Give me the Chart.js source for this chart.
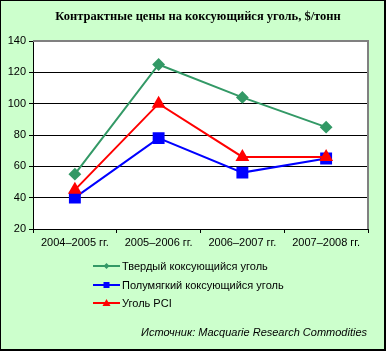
<!DOCTYPE html>
<html>
<head>
<meta charset="utf-8">
<script src="https://cdn.jsdelivr.net/npm/chart.js@4"></script>
<style>
  html, body { margin: 0; padding: 0; background: #ffffff; }
  #wrap { width: 386px; height: 351px; }
</style>
</head>
<body>
<div id="wrap"><canvas id="coalChart" width="386" height="351"></canvas></div>
<script>
// ---- data ----
const chartTitle = 'Контрактные цены на коксующийся уголь, $/тонн';
const sourceNote = 'Источник: Macquarie Research Commodities';
const periods = ['2004–2005 гг.', '2005–2006 гг.', '2006–2007 гг.', '2007–2008 гг.'];
const seriesNames = ['Твердый коксующийся уголь', 'Полумягкий коксующийся уголь', 'Уголь PCI'];
const hardCoking = [55, 125, 104, 85];
const semiSoft = [40, 78, 56, 65];
const pciCoal = [45, 100, 66, 66];
const yTicks = [20, 40, 60, 80, 100, 120, 140];

const FONT = 'Arial, "Liberation Sans", sans-serif';

// background, plot frame, title, legend and source note
const decorPlugin = {
    id: 'decor',
    beforeDraw(chart) {
        const ctx = chart.ctx;
        const a = chart.chartArea;
        ctx.save();
        ctx.fillStyle = '#CCFFCC';
        ctx.fillRect(0, 0, chart.width, chart.height);
        ctx.fillStyle = '#ffffff';
        ctx.fillRect(a.left, a.top, a.right - a.left, a.bottom - a.top);
        ctx.restore();
    },
    afterDatasetsDraw(chart) {
        const ctx = chart.ctx;
        const a = chart.chartArea;
        ctx.save();
        // plot area frame (top / right in grey)
        ctx.strokeStyle = '#808080';
        ctx.lineWidth = 2;
        ctx.beginPath();
        ctx.moveTo(a.left, a.top);
        ctx.lineTo(a.right, a.top);
        ctx.lineTo(a.right, a.bottom);
        ctx.stroke();
        ctx.restore();
    },
    afterDraw(chart) {
        const ctx = chart.ctx;
        ctx.save();
        // outer border
        ctx.fillStyle = '#000000';
        ctx.fillRect(0, 0, chart.width, 1);
        ctx.fillRect(0, 0, 1, chart.height);
        ctx.fillRect(chart.width - 2, 0, 2, chart.height);
        ctx.fillRect(0, chart.height - 2, chart.width, 2);

        // title
        ctx.fillStyle = '#000000';
        ctx.font = 'bold 12.5px "Liberation Serif", "Times New Roman", serif';
        ctx.textAlign = 'center';
        ctx.textBaseline = 'middle';
        ctx.fillText(chartTitle, 198, 17);

        // legend
        ctx.font = '11px ' + FONT;
        ctx.textAlign = 'left';
        const rows = [266, 285, 303];
        chart.data.datasets.forEach((ds, i) => {
            const y = rows[i];
            ctx.strokeStyle = ds.borderColor;
            ctx.lineWidth = 2;
            ctx.beginPath();
            ctx.moveTo(93, y);
            ctx.lineTo(120, y);
            ctx.stroke();
            ctx.fillStyle = ds.borderColor;
            const cx = 106.5;
            ctx.beginPath();
            if (ds.pointStyle === 'rectRot') {
                ctx.moveTo(cx, y - 3); ctx.lineTo(cx + 3, y); ctx.lineTo(cx, y + 3); ctx.lineTo(cx - 3, y);
            } else if (ds.pointStyle === 'rect') {
                ctx.rect(cx - 3, y - 3, 6, 6);
            } else {
                ctx.moveTo(cx, y - 4); ctx.lineTo(cx + 4, y + 3); ctx.lineTo(cx - 4, y + 3);
            }
            ctx.closePath();
            ctx.fill();
            ctx.fillStyle = '#000000';
            ctx.fillText(ds.label, 122, y + 1);
        });

        // source note
        ctx.font = 'italic 11px ' + FONT;
        ctx.textAlign = 'right';
        ctx.fillText(sourceNote, 367, 333);
        ctx.restore();
    }
};

const ctx = document.getElementById('coalChart');
new Chart(ctx, {
    type: 'line',
    data: {
        labels: periods,
        datasets: [
            {
                label: seriesNames[0],
                data: hardCoking,
                borderColor: '#339966',
                backgroundColor: '#339966',
                borderWidth: 2,
                pointStyle: 'rectRot',
                pointRadius: 5,
                pointHoverRadius: 5,
                tension: 0,
                order: 2
            },
            {
                label: seriesNames[1],
                data: semiSoft,
                borderColor: '#0000FF',
                backgroundColor: '#0000FF',
                borderWidth: 2,
                pointStyle: 'rect',
                pointRadius: 7,
                pointHoverRadius: 7,
                tension: 0,
                order: 1
            },
            {
                label: seriesNames[2],
                data: pciCoal,
                borderColor: '#FF0000',
                backgroundColor: '#FF0000',
                borderWidth: 2,
                pointStyle: 'triangle',
                pointRadius: 6,
                pointHoverRadius: 6,
                tension: 0,
                order: 0
            }
        ]
    },
    options: {
        responsive: false,
        devicePixelRatio: 1,
        animation: false,
        events: [],
        layout: { padding: { left: 0, top: 41, right: 18, bottom: 97 } },
        plugins: {
            legend: { display: false },
            title: { display: false },
            tooltip: { enabled: false }
        },
        scales: {
            x: {
                offset: true,
                afterFit: (s) => { s.height = 25; },
                grid: {
                    offset: true,
                    drawOnChartArea: false,
                    drawTicks: true,
                    tickLength: 4,
                    color: '#000000'
                },
                border: { color: '#000000', width: 1 },
                ticks: {
                    color: '#000000',
                    font: { family: FONT, size: 11 },
                    padding: 3,
                    maxRotation: 0,
                    autoSkip: false
                }
            },
            y: {
                min: yTicks[0],
                max: yTicks[yTicks.length - 1],
                afterFit: (s) => { s.width = 33; },
                afterBuildTicks: (s) => { s.ticks = yTicks.map(v => ({ value: v })); },
                grid: {
                    color: '#000000',
                    lineWidth: 1,
                    drawTicks: true,
                    tickLength: 4
                },
                border: { color: '#000000', width: 1 },
                ticks: {
                    color: '#000000',
                    font: { family: FONT, size: 11 },
                    padding: 3
                }
            }
        }
    },
    plugins: [decorPlugin]
});
</script>
</body>
</html>
